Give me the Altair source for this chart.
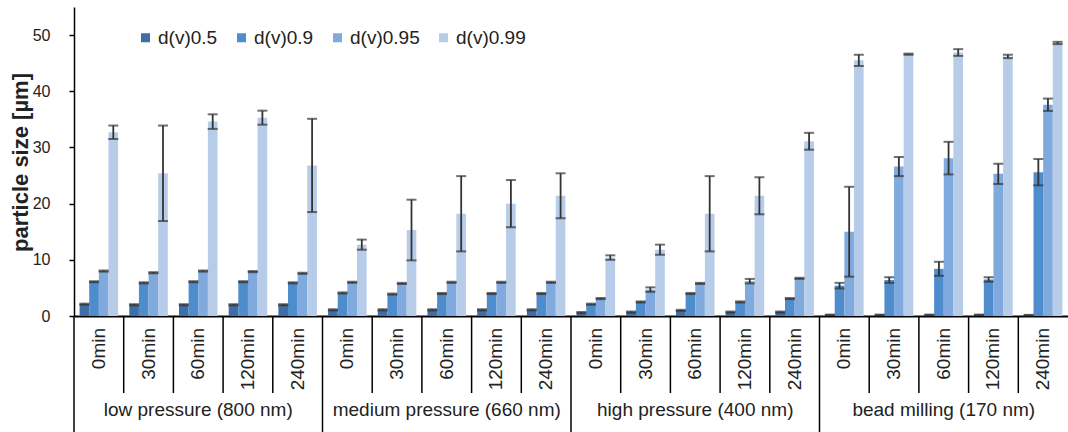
import altair as alt
import pandas as pd

groups = ["low pressure (800 nm)", "medium pressure (660 nm)", "high pressure (400 nm)", "bead milling (170 nm)"]
times = ["0min", "30min", "60min", "120min", "240min"]
series = ["d(v)0.5", "d(v)0.9", "d(v)0.95", "d(v)0.99"]
colors = ["#3d6fa6", "#4f8ccb", "#80aadd", "#b7cce9"]

d05 = [2.1, 2.0, 2.0, 2.0, 2.0, 1.1, 1.1, 1.1, 1.1, 1.1, 0.6, 0.7, 1.0, 0.7, 0.7, 0.2, 0.2, 0.2, 0.2, 0.15]
e05 = [0.1, 0.1, 0.1, 0.1, 0.1, 0.1, 0.1, 0.1, 0.1, 0.1, 0.1, 0.1, 0.1, 0.1, 0.1, 0.05, 0.05, 0.05, 0.05, 0.05]
d09 = [6.1, 5.9, 6.1, 6.1, 5.9, 4.1, 3.9, 4.0, 4.0, 4.0, 2.1, 2.5, 4.0, 2.5, 3.1, 5.4, 6.4, 8.4, 6.5, 25.6]
e09 = [0.1, 0.1, 0.1, 0.1, 0.1, 0.1, 0.1, 0.1, 0.1, 0.1, 0.1, 0.1, 0.1, 0.1, 0.1, 0.5, 0.5, 1.25, 0.4, 2.35]
d095 = [8.0, 7.7, 8.0, 7.9, 7.6, 6.0, 5.8, 6.0, 6.0, 6.0, 3.1, 4.7, 5.8, 6.2, 6.7, 15.0, 26.6, 28.1, 25.3, 37.6]
e095 = [0.1, 0.1, 0.1, 0.1, 0.1, 0.1, 0.1, 0.1, 0.1, 0.1, 0.1, 0.4, 0.1, 0.4, 0.1, 8.0, 1.7, 2.9, 1.8, 1.1]
d099 = [32.7, 25.4, 34.6, 35.3, 26.8, 12.7, 15.3, 18.2, 20.0, 21.4, 10.4, 11.8, 18.2, 21.4, 31.1, 45.5, 46.6, 46.9, 46.2, 48.6]
e099 = [1.2, 8.5, 1.3, 1.25, 8.3, 0.9, 5.4, 6.7, 4.2, 4.0, 0.4, 0.9, 6.7, 3.3, 1.5, 1.0, 0.1, 0.6, 0.3, 0.2]

keys = [f"{g}|{t}" for g in groups for t in times]
means = [d05, d09, d095, d099]
errs = [e05, e09, e095, e099]

rows = []
for s, m, e in zip(series, means, errs):
    for i, k in enumerate(keys):
        rows.append({"key": k, "series": s, "value": m[i], "lo": m[i] - e[i], "hi": m[i] + e[i]})
df = pd.DataFrame(rows)

cats = pd.DataFrame({"key": keys,
                     "group": [g for g in groups for t in times],
                     "time": [t for g in groups for t in times]})

H = 309
FONT = "Liberation Sans"

xenc = alt.X("key:N", sort=keys, scale=alt.Scale(paddingInner=0, paddingOuter=0),
             axis=alt.Axis(labels=False, ticks=False, title=None, grid=False,
                           domainColor="black", domainWidth=2))
xoff = alt.XOffset("series:N", sort=series, scale=alt.Scale(paddingInner=0, paddingOuter=0.58))
yscale = alt.Scale(domain=[0, 55], nice=False)

bars = alt.Chart(df).mark_bar().encode(
    x=xenc,
    xOffset=xoff,
    y=alt.Y("value:Q", scale=yscale,
            axis=alt.Axis(values=[0, 10, 20, 30, 40, 50], grid=False, domainColor="black",
                          domainWidth=1.5, tickColor="black", tickWidth=1.5, tickSize=5,
                          labelFontSize=16, labelColor="#222", labelPadding=19,
                          title="particle size [µm]", titleFontSize=22, titleFontWeight="bold",
                          titleColor="#222", titleAngle=270, titleX=-54, titleY=155,
                          titleAlign="center", titleBaseline="middle")),
    color=alt.Color("series:N", sort=series, scale=alt.Scale(domain=series, range=colors),
                    legend=alt.Legend(title=None, orient="none", direction="horizontal",
                                      legendX=62, legendY=21, symbolType="square",
                                      symbolSize=81, symbolStrokeWidth=0, labelFontSize=19,
                                      labelColor="#222", labelOffset=3, columnPadding=14,
                                      padding=0))
)

rules = alt.Chart(df).mark_rule(color="#333", strokeWidth=1.8).encode(
    x=alt.X("key:N", sort=keys), xOffset=alt.XOffset("series:N", sort=series),
    y=alt.Y("lo:Q", scale=yscale), y2="hi:Q")

caps = alt.Chart(df).transform_fold(["lo", "hi"], as_=["end", "pos"]).mark_tick(
    color="#333", thickness=2, size=10).encode(
    x=alt.X("key:N", sort=keys), xOffset=alt.XOffset("series:N", sort=series),
    y=alt.Y("pos:Q", scale=yscale))

short_sep = alt.Chart(cats).transform_filter(alt.datum.time != "0min").mark_rule(
    color="black", strokeWidth=1.5).encode(
    x=alt.X("key:N", sort=keys, bandPosition=0), y=alt.value(H), y2=alt.value(386))

long_sep = alt.Chart(cats).transform_filter(alt.datum.time == "0min").mark_rule(
    color="black", strokeWidth=1.5).encode(
    x=alt.X("key:N", sort=keys, bandPosition=0), y=alt.value(H), y2=alt.value(425))

time_lbl = alt.Chart(cats).mark_text(angle=270, align="right", baseline="middle",
                                     fontSize=19, color="#222", font=FONT).encode(
    x=alt.X("key:N", sort=keys), y=alt.value(321), text="time:N")

group_lbl = alt.Chart(cats).transform_filter(alt.datum.time == "60min").mark_text(
    align="center", baseline="middle", fontSize=19, color="#222", font=FONT).encode(
    x=alt.X("key:N", sort=keys), y=alt.value(403), text="group:N")

chart = alt.layer(bars, rules, caps, short_sep, long_sep, time_lbl, group_lbl).properties(
    width=994, height=H,
    padding={"left": 74, "top": 7, "right": 0, "bottom": 116},
    autosize=alt.AutoSizeParams(type="none"),
).configure(font=FONT).configure_view(stroke=None)

chart.save("out.html", embed_options={"renderer": "svg", "actions": False})
